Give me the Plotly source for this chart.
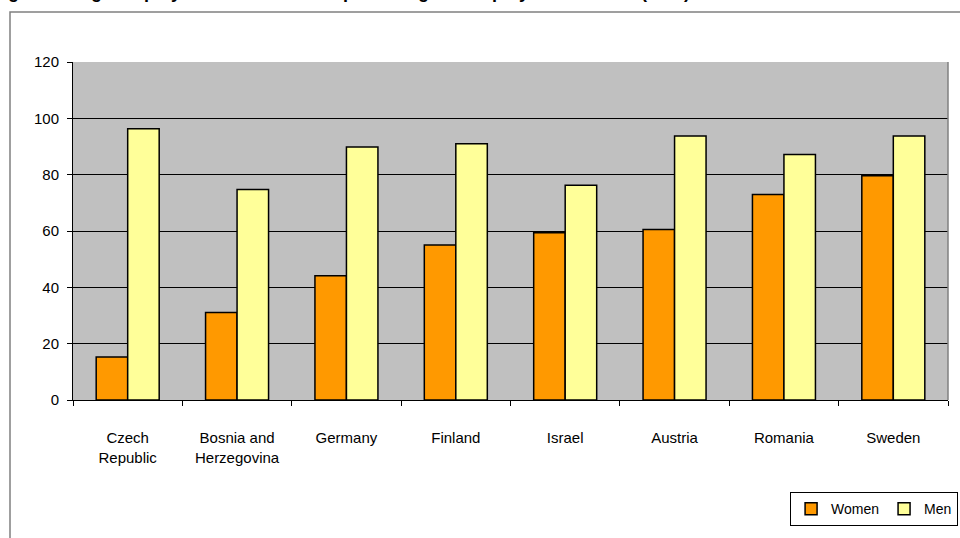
import plotly.graph_objects as go

categories = ["Czech<br>Republic", "Bosnia and<br>Herzegovina", "Germany", "Finland",
              "Israel", "Austria", "Romania", "Sweden"]
women = [15.3, 31.1, 44.1, 55.0, 59.4, 60.5, 73.0, 79.6]
men = [96.3, 74.7, 89.8, 91.0, 76.2, 93.7, 87.2, 93.7]
y_ticks = [0, 20, 40, 60, 80, 100, 120]

FONT = "Liberation Sans, Arial, sans-serif"

fig = go.Figure()
fig.add_trace(go.Bar(x=categories, y=women, name="Women",
                     marker=dict(color="#FF9900", line=dict(color="#000000", width=1.5))))
fig.add_trace(go.Bar(x=categories, y=men, name="Men",
                     marker=dict(color="#FFFF99", line=dict(color="#000000", width=1.5))))

fig.update_layout(
    width=960, height=538,
    margin=dict(l=73, r=12, t=62, b=138, autoexpand=False),
    paper_bgcolor="white",
    plot_bgcolor="#C0C0C0",
    barmode="group",
    bargap=0.424,
    bargroupgap=0,
    font=dict(family=FONT, size=15, color="#000000"),
    showlegend=True,
    legend=dict(orientation="h", xref="container", yref="container",
                x=0.998, y=0.022, xanchor="right", yanchor="bottom",
                bordercolor="#000000", borderwidth=1, bgcolor="white",
                font=dict(size=14), itemwidth=30, traceorder="normal"),
    xaxis=dict(type="category", showline=True, linecolor="#000000", linewidth=1,
               ticks="outside", ticklen=5, tickcolor="#000000", tickson="boundaries",
               ticklabelstandoff=24, tickfont=dict(size=15), showgrid=False),
    yaxis=dict(range=[0, 120], tickvals=y_ticks, showline=True, linecolor="#000000",
               linewidth=1, ticks="outside", ticklen=5, tickcolor="#000000",
               showgrid=True, gridcolor="#000000", gridwidth=1, zeroline=False,
               tickfont=dict(size=15), ticklabelstandoff=5),
)

# outer chart frame (clipped at right/bottom)
fig.add_shape(type="rect", xref="paper", yref="paper", x0=-0.072, x1=1.2, y0=-0.6, y1=1.148,
              line=dict(color="#808080", width=1.5), layer="below")
# right border of plot area
fig.add_shape(type="line", xref="paper", yref="paper", x0=1, x1=1, y0=0, y1=1,
              line=dict(color="#808080", width=1.5))

# clipped title at top
fig.add_annotation(xref="paper", yref="paper", x=-0.095, y=1.172, xanchor="left", yanchor="bottom",
                   text="<b>Figure 1: High employment of women as percentage of employment of men (in %)</b>",
                   showarrow=False, font=dict(size=18, family=FONT, color="#000000"))

fig.write_html("out.html")
